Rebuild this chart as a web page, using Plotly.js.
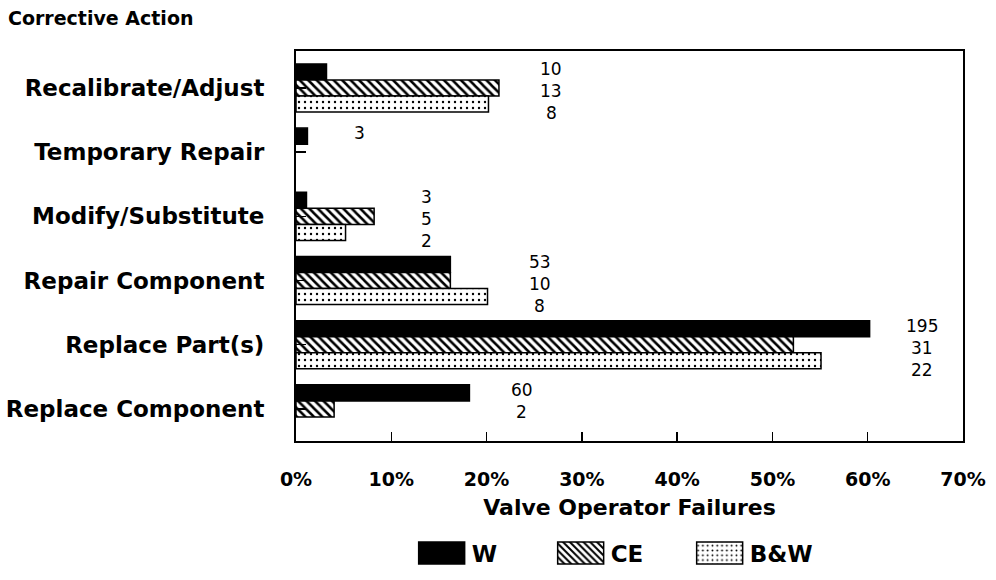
<!DOCTYPE html>
<html>
<head>
<meta charset="utf-8">
<script src="https://cdn.plot.ly/plotly-3.0.1.min.js"></script>
<style>
  html, body { margin: 0; padding: 0; background: #fff; }
  #chart { width: 996px; height: 580px; }
</style>
</head>
<body>
<div id="chart"></div>
<script>
// ---- data ----
const categories = ['Recalibrate/Adjust', 'Temporary Repair', 'Modify/Substitute',
                    'Repair Component', 'Replace Part(s)', 'Replace Component'];
const seriesNames = ['W', 'CE', 'B&W'];
// percentage of valve operator failures
const wPct  = [3.2, 1.2, 1.1, 16.2, 60.2, 18.2];
const cePct = [21.3, null, 8.2, 16.2, 52.2, 4.0];
const bwPct = [20.2, null, 5.2, 20.1, 55.1, null];
// counts printed beside each group
const wCount  = [10, 3, 3, 53, 195, 60];
const ceCount = [13, null, 5, 10, 31, 2];
const bwCount = [8, null, 2, 8, 22, null];
const xTickVals = [0, 10, 20, 30, 40, 50, 60, 70];
const xTickText = ['0%', '10%', '20%', '30%', '40%', '50%', '60%', '70%'];

const FONT = 'DejaVu Sans, Arial, sans-serif';
const lineStyle = { color: '#000', width: 1.5 };

const traces = [
  {
    type: 'bar', orientation: 'h', name: seriesNames[0],
    y: categories, x: wPct,
    marker: { color: '#000', line: lineStyle }
  },
  {
    type: 'bar', orientation: 'h', name: seriesNames[1],
    y: categories, x: cePct,
    marker: { color: '#fff', line: lineStyle,
      pattern: { shape: '\\', size: 6, solidity: 0.42, fgcolor: '#000', bgcolor: '#fff' } }
  },
  {
    type: 'bar', orientation: 'h', name: seriesNames[2],
    y: categories, x: bwPct,
    marker: { color: '#fff', line: lineStyle,
      pattern: { shape: '.', size: 6, solidity: 0.12, fgcolor: '#000', bgcolor: '#fff' } }
  }
];

// count labels: stacked to the right of each group's longest bar
const annotations = [];
categories.forEach((cat, i) => {
  const vals = [wPct[i], cePct[i], bwPct[i]].filter(v => v != null);
  const maxV = Math.max(...vals);
  const counts = [wCount[i], ceCount[i], bwCount[i]].filter(v => v != null);
  counts.forEach((c, j) => {
    annotations.push({
      x: maxV + 5.5, y: cat, xref: 'x', yref: 'y',
      text: String(c), showarrow: false, xanchor: 'center',
      yshift: 19 - 22 * j,
      font: { family: FONT, size: 17, color: '#000' }
    });
  });
});

const layout = {
  width: 996, height: 580,
  paper_bgcolor: '#fff', plot_bgcolor: '#fff',
  margin: { l: 296, r: 33, t: 51, b: 139, autoexpand: false },
  font: { family: FONT, color: '#000' },
  title: {
    text: 'Corrective Action', xref: 'container', yref: 'container',
    x: 0.008, xanchor: 'left', y: 0.968, yanchor: 'middle',
    font: { family: FONT, size: 19, color: '#000', weight: 'bold' }
  },
  barmode: 'group', bargap: 0.25, bargroupgap: 0,
  xaxis: {
    range: [0, 70], tickvals: xTickVals, ticktext: xTickText,
    ticks: 'inside', ticklen: 9, tickwidth: 1.5, tickcolor: '#000',
    showline: true, linecolor: '#000', linewidth: 2, mirror: true,
    showgrid: false, zeroline: false, ticklabelstandoff: 20,
    tickfont: { family: FONT, size: 19, color: '#000', weight: 'bold' },
    title: { text: 'Valve Operator Failures', standoff: 11,
      font: { family: FONT, size: 22, color: '#000', weight: 'bold' } }
  },
  yaxis: {
    type: 'category', autorange: 'reversed',
    ticks: 'inside', ticklen: 10, tickwidth: 1.5, tickcolor: '#000',
    showline: true, linecolor: '#000', linewidth: 2, mirror: true,
    showgrid: false, zeroline: false, ticklabelstandoff: 25,
    tickfont: { family: FONT, size: 23, color: '#000', weight: 'bold' }
  },
  showlegend: true,
  legend: {
    orientation: 'h', x: 0.486, xanchor: 'center', y: -0.287, yanchor: 'middle',
    itemwidth: 50, entrywidth: 74, entrywidthmode: 'pixels', traceorder: 'normal',
    font: { family: FONT, size: 23, color: '#000', weight: 'bold' },
    bgcolor: 'rgba(0,0,0,0)'
  },
  annotations: annotations
};

Plotly.newPlot('chart', traces, layout, { staticPlot: true, displayModeBar: false }).then(gd => {
  gd.querySelectorAll('.legend .legendpoints path').forEach(p => {
    p.setAttribute('d', 'M23,11H-23V-11H23Z');
  });
});
</script>
</body>
</html>
